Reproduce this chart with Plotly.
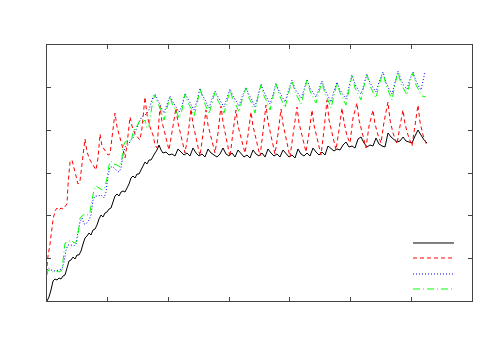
import plotly.graph_objects as go

# Four runs (x: time index, y: level)
black_x = [0, 2, 4, 6, 8, 10, 12, 14, 16, 18, 20, 22, 24, 26, 28, 30, 32, 34, 36, 38,
           40, 42, 44, 46, 48, 50, 52, 54, 56, 58, 60, 62, 64, 66, 68, 70, 72, 74, 76, 78,
           80, 82, 84, 86, 88, 90, 92, 94, 96, 98, 100, 102, 104, 106, 108, 110, 112, 114, 116,
           119, 122, 125, 128, 131, 134, 137, 140, 143, 146, 149, 152, 155, 158, 161, 164, 167,
           170, 173, 176, 179, 182, 185, 188, 191, 194, 197, 200, 203, 206, 209, 212, 215, 218,
           221, 224, 227, 230, 233, 236, 239, 242, 245, 248, 251, 254, 257, 260, 263, 266, 269,
           272, 275, 278, 281, 284, 287, 290, 293, 296, 299, 302, 305, 308, 311, 314, 317, 320,
           323, 326, 329, 332, 335, 338, 341, 344, 347, 350, 353, 356, 359, 362, 365, 368, 371,
           374, 377, 380]
black_y = [0, 4, 11, 20, 22, 21, 23, 22, 25, 26, 33, 40, 41, 44, 42, 46, 46, 50, 57, 63,
           65, 68, 66, 71, 72, 76, 82, 86, 84, 88, 89, 92, 93, 99, 105, 107, 105, 109, 110, 109,
           113, 117, 123, 125, 123, 127, 127, 131, 136, 139, 137, 141, 141, 145, 148, 151, 156, 151, 148,
           149, 146, 147, 145, 152, 149, 146, 148, 145, 153, 148, 145, 147, 144, 152, 148, 146,
           144, 147, 153, 147, 145, 148, 144, 151, 147, 144, 146, 143, 151, 147, 145, 148, 144,
           152, 148, 145, 147, 144, 151, 147, 144, 146, 143, 152, 147, 145, 148, 145, 153, 149,
           146, 149, 146, 155, 152, 150, 152, 151, 156, 159, 154, 155, 153, 162, 164, 158, 154,
           156, 155, 163, 157, 155, 154, 168, 164, 161, 159, 160, 164, 160, 159, 158, 165, 171,
           166, 161, 158]

red_x = [0, 1, 3, 5, 6, 8, 10, 12, 14, 16, 18, 20, 21, 23, 25, 28, 31, 33, 35, 38,
         40, 43, 46, 49, 51, 53, 55, 58, 61, 63, 66, 68, 70, 73, 75, 78, 80, 83, 85, 88,
         91, 93, 95, 98, 100, 103, 106, 108, 110,
         113, 115, 118, 122, 125, 129, 131, 134, 138, 141, 144, 146, 149, 153, 156,
         159, 161, 164, 168, 171, 174, 176, 179, 183, 186, 189, 191, 194, 198, 201,
         204, 206, 209, 213, 216, 219, 221, 224, 228, 231, 234, 236, 239, 243, 246,
         250, 252, 255, 259, 262, 265, 267, 270, 274, 277, 280, 282, 285, 289, 292,
         295, 297, 300, 303, 306, 310, 312, 315, 319, 322, 326, 328, 331, 334, 337,
         341, 343, 346, 350, 353, 356, 358, 361, 365, 368, 371, 373, 376, 380]
red_y = [35, 45, 57, 73, 81, 90, 93, 91, 93, 92, 94, 97, 116, 139, 141, 129, 117, 120, 136, 162,
         149, 141, 136, 131, 143, 167, 155, 151, 146, 147, 171, 188, 174, 164, 156, 143, 156, 184, 175, 167,
         163, 161, 173, 204, 186, 174, 166, 156, 153,
         195, 179, 166, 151, 169, 193, 178, 166, 148, 166, 192, 177, 164, 145, 167,
         191, 176, 163, 148, 168, 195, 179, 165, 144, 169, 191, 175, 162, 148, 166,
         189, 175, 163, 145, 169, 196, 179, 166, 147, 167, 192, 177, 164, 144, 166,
         194, 178, 165, 149, 168, 191, 176, 163, 146, 171, 201, 181, 168, 151, 171,
         193, 179, 165, 158, 183, 198, 181, 169, 153, 175, 191, 177, 166, 158, 179,
         199, 181, 168, 157, 175, 191, 177, 166, 155, 177, 196, 179, 166, 155]

blue_x = [0, 1, 4, 8, 12, 15, 17, 19, 21, 24, 27, 29, 31, 33, 35, 37, 39, 42, 44, 46,
          48, 51, 54, 57, 59, 61, 63, 66, 69, 72, 74, 76, 78, 81, 84, 86, 88, 90, 92, 94,
          96, 98, 100, 102, 104, 106,
          108, 111, 114, 117, 120, 123, 126, 129, 132, 135, 138, 141, 144, 147, 150,
          153, 156, 159, 162, 165, 168, 171, 174, 177, 180, 183, 186, 189, 192, 195,
          199, 202, 205, 208, 211, 214, 217, 220, 223, 226, 229, 232, 235, 238, 241,
          245, 248, 251, 254, 257, 260, 263, 266, 269, 272, 275, 278, 281, 284, 287,
          290, 293, 296, 299, 302, 305, 308, 311, 314, 317, 320, 323, 326, 329, 332,
          336, 339, 342, 345, 348, 351, 354, 357, 360, 363, 366, 369, 372, 374, 378]
blue_y = [31, 33, 31, 30, 31, 32, 39, 51, 56, 56, 55, 57, 69, 79, 83, 77, 77, 81, 86, 101,
          105, 105, 106, 103, 109, 126, 134, 134, 131, 129, 133, 146, 154, 156, 161, 163, 169, 174, 179, 183,
          185, 186, 188, 191, 198, 204,
          207, 200, 194, 188, 197, 205, 199, 194, 189, 195, 208, 202, 197, 191, 200,
          213, 205, 199, 193, 202, 210, 204, 199, 194, 203, 212, 205, 200, 195, 204,
          214, 206, 201, 194, 207, 217, 209, 203, 197, 206, 218, 210, 204, 199, 209,
          221, 212, 207, 203, 211, 222, 213, 208, 204, 212, 220, 211, 205, 199, 210,
          219, 211, 206, 202, 214, 226, 217, 211, 207, 218, 227, 218, 213, 209, 219,
          229, 219, 212, 207, 220, 230, 221, 215, 212, 222, 229, 220, 214, 211, 229]

green_x = [0, 1, 3, 6, 9, 12, 15, 16, 17, 18, 21, 24, 27, 30, 31, 33, 35, 38, 41, 43,
           45, 47, 49, 52, 55, 58, 60, 62, 64, 67, 70, 73, 75, 76, 78, 81, 84, 86, 88, 90,
           92, 94, 96, 98, 100, 102, 104, 106,
           108, 111, 114, 117, 120, 123, 126, 129, 132, 135, 138, 141, 144, 147, 150,
           153, 156, 159, 162, 165, 168, 171, 174, 177, 180, 183, 186, 189, 192, 195,
           199, 202, 205, 208, 211, 214, 217, 220, 223, 226, 229, 232, 235, 238, 241,
           245, 248, 251, 254, 257, 260, 263, 266, 269, 272, 275, 278, 281, 284, 287,
           290, 293, 296, 299, 302, 305, 308, 311, 314, 317, 320, 323, 326, 329, 332,
           336, 339, 342, 345, 348, 351, 354, 357, 360, 363, 366, 369, 372, 375, 379]
green_y = [26, 31, 30, 29, 30, 29, 31, 39, 51, 58, 59, 61, 58, 60, 66, 83, 85, 87, 86, 89,
           101, 111, 115, 113, 111, 114, 123, 136, 140, 137, 136, 134, 143, 154, 159, 161, 159, 168, 173, 175,
           179, 183, 179, 181, 173, 175, 189, 201,
           206, 197, 191, 181, 193, 204, 195, 190, 183, 191, 207, 198, 193, 185, 197,
           212, 202, 194, 187, 198, 209, 200, 195, 188, 200, 211, 201, 196, 189, 201,
           213, 203, 197, 188, 204, 216, 205, 199, 191, 203, 217, 207, 200, 193, 206,
           220, 209, 203, 197, 208, 221, 210, 204, 198, 209, 219, 207, 201, 193, 207,
           218, 208, 202, 196, 211, 225, 213, 207, 201, 215, 226, 215, 209, 203, 216,
           228, 216, 208, 201, 217, 229, 217, 211, 206, 219, 228, 216, 210, 205, 204]

series = [
    (black_x, black_y, 'black', 'solid'),
    (red_x, red_y, '#ff0000', '4px,3px'),
    (blue_x, blue_y, '#0000ff', '1px,2px'),
    (green_x, green_y, '#00ff00', '7px,3px,1px,3px'),
]

fig = go.Figure()
for xs, ys, col, dash in series:
    fig.add_trace(go.Scatter(x=xs, y=ys, mode='lines',
                             line=dict(color=col, width=1, dash=dash),
                             showlegend=False))

# legend samples (no key text in the original)
legend_y = [0.2266, 0.168, 0.1055, 0.0469]
for (xs, ys, col, dash), ly in zip(series, legend_y):
    fig.add_shape(type='line', xref='paper', yref='paper',
                  x0=0.8612, x1=0.9576, y0=ly, y1=ly,
                  line=dict(color=col, width=1, dash=dash))

axis_style = dict(showgrid=False, zeroline=False, showticklabels=False,
                  showline=True, linecolor='#444', linewidth=1, mirror='allticks',
                  ticks='inside', ticklen=4, tickcolor='#444', tickwidth=1)

# page body adds an 8px offset, so margins are trimmed on the top/left
fig.update_layout(
    width=500, height=350,
    margin=dict(l=39, r=36, t=37, b=57),
    paper_bgcolor='white', plot_bgcolor='white',
    xaxis=dict(range=[0, 425], tick0=0, dtick=425 / 7, **axis_style),
    yaxis=dict(range=[0, 256], tick0=0, dtick=256 / 6, **axis_style),
)

fig.write_html("out.html")
